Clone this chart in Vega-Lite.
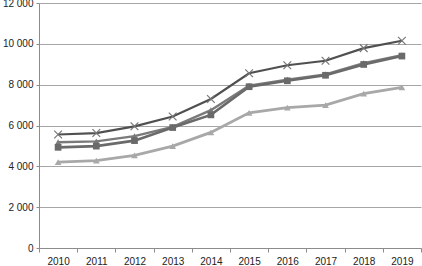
{
  "$schema": "https://vega.github.io/schema/vega-lite/v6.json",
  "width": 382,
  "height": 245,
  "autosize": {"type": "none"},
  "padding": {"left": 39, "top": 3, "right": 1, "bottom": 18},
  "background": "white",
  "config": {
    "view": {"stroke": null},
    "font": "Liberation Sans",
    "axis": {"labelFont": "Liberation Sans", "labelFontSize": 10, "labelColor": "#222222"}
  },
  "data": {
    "values": [
      {"year": "2010", "series": "A", "value": 5560},
      {"year": "2011", "series": "A", "value": 5630},
      {"year": "2012", "series": "A", "value": 5960},
      {"year": "2013", "series": "A", "value": 6440},
      {"year": "2014", "series": "A", "value": 7300},
      {"year": "2015", "series": "A", "value": 8560},
      {"year": "2016", "series": "A", "value": 8950},
      {"year": "2017", "series": "A", "value": 9170},
      {"year": "2018", "series": "A", "value": 9790},
      {"year": "2019", "series": "A", "value": 10150},
      {"year": "2010", "series": "B", "value": 5180},
      {"year": "2011", "series": "B", "value": 5220},
      {"year": "2012", "series": "B", "value": 5480},
      {"year": "2013", "series": "B", "value": 5930},
      {"year": "2014", "series": "B", "value": 6750},
      {"year": "2015", "series": "B", "value": 7950},
      {"year": "2016", "series": "B", "value": 8250},
      {"year": "2017", "series": "B", "value": 8500},
      {"year": "2018", "series": "B", "value": 9050},
      {"year": "2019", "series": "B", "value": 9450},
      {"year": "2010", "series": "C", "value": 4930},
      {"year": "2011", "series": "C", "value": 4990},
      {"year": "2012", "series": "C", "value": 5260},
      {"year": "2013", "series": "C", "value": 5900},
      {"year": "2014", "series": "C", "value": 6520},
      {"year": "2015", "series": "C", "value": 7900},
      {"year": "2016", "series": "C", "value": 8190},
      {"year": "2017", "series": "C", "value": 8460},
      {"year": "2018", "series": "C", "value": 8990},
      {"year": "2019", "series": "C", "value": 9400},
      {"year": "2010", "series": "D", "value": 4210},
      {"year": "2011", "series": "D", "value": 4280},
      {"year": "2012", "series": "D", "value": 4540},
      {"year": "2013", "series": "D", "value": 4990},
      {"year": "2014", "series": "D", "value": 5660},
      {"year": "2015", "series": "D", "value": 6620},
      {"year": "2016", "series": "D", "value": 6880},
      {"year": "2017", "series": "D", "value": 7000},
      {"year": "2018", "series": "D", "value": 7560},
      {"year": "2019", "series": "D", "value": 7870}
    ]
  },
  "encoding": {
    "x": {
      "field": "year", "type": "ordinal",
      "scale": {"type": "band", "paddingInner": 0, "paddingOuter": 0},
      "axis": {
        "title": null, "labelAngle": 0, "tickBand": "extent",
        "domainColor": "#8c8c8c", "tickColor": "#8c8c8c", "tickSize": 4,
        "labelPadding": 4, "grid": false
      }
    },
    "y": {
      "field": "value", "type": "quantitative",
      "scale": {"domain": [0, 12000], "nice": false},
      "axis": {
        "title": null, "values": [0, 2000, 4000, 6000, 8000, 10000, 12000],
        "labelExpr": "replace(format(datum.value, ','), ',', ' ')",
        "grid": true, "gridColor": "#a6a6a6", "gridWidth": 1,
        "domain": true, "domainColor": "#8c8c8c",
        "tickColor": "#8c8c8c", "tickSize": 3, "labelPadding": 3
      }
    },
    "color": {
      "field": "series", "type": "nominal", "legend": null,
      "scale": {"domain": ["A", "B", "C", "D"], "range": ["#505050", "#7a7a7a", "#6a6a6a", "#a8a8a8"]}
    }
  },
  "layer": [
    {
      "mark": {"type": "line"},
      "encoding": {
        "strokeWidth": {
          "field": "series", "type": "nominal", "legend": null,
          "scale": {"domain": ["A", "B", "C", "D"], "range": [2.2, 2.8, 2.8, 2.2]}
        }
      }
    },
    {
      "mark": {"type": "point", "filled": true, "opacity": 1},
      "transform": [{"filter": "datum.series != 'A'"}],
      "encoding": {
        "shape": {
          "field": "series", "type": "nominal", "legend": null,
          "scale": {"domain": ["B", "C", "D"], "range": ["triangle-up", "square", "triangle-up"]}
        },
        "size": {"value": 45}
      }
    },
    {
      "mark": {"type": "point", "shape": "M-1,-1L1,1M-1,1L1,-1", "filled": false, "size": 60, "strokeWidth": 1.2, "opacity": 1},
      "transform": [{"filter": "datum.series == 'A'"}],
      "encoding": {"color": {"value": "#777777"}}
    }
  ]
}
